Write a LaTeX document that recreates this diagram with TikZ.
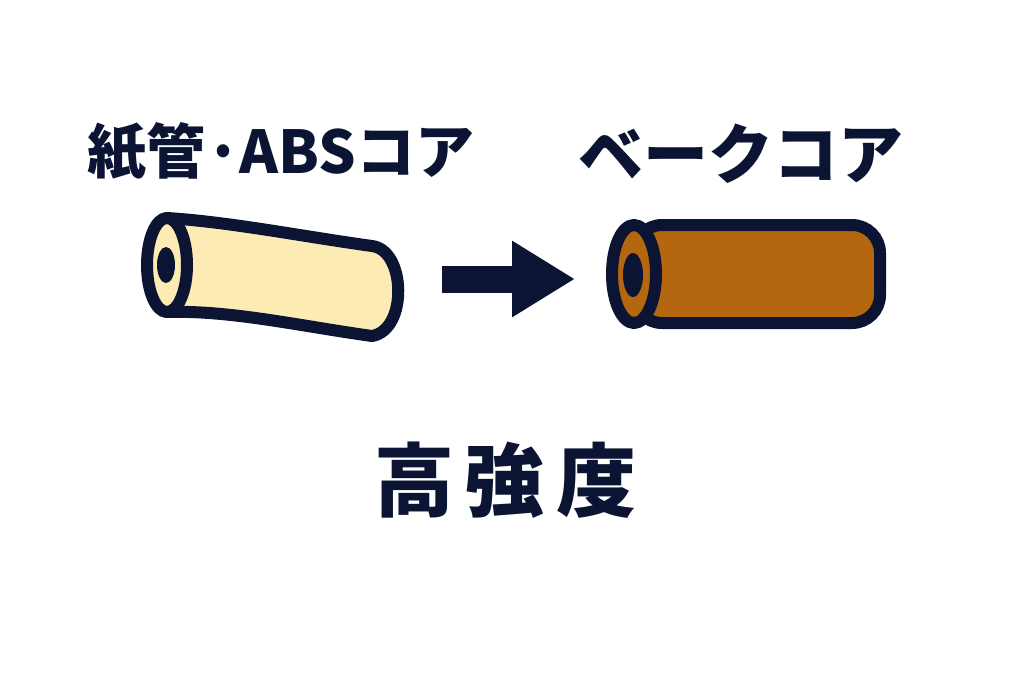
\documentclass[tikz,border=0pt]{standalone}
\usepackage{fontspec}
\newfontfamily\cjk{Noto Sans CJK JP}
\usetikzlibrary{arrows.meta}
\definecolor{ink}{HTML}{0B1433}
\definecolor{paper}{HTML}{FCEBB3}
\definecolor{bake}{HTML}{B5670F}

\begin{document}
\begin{tikzpicture}
		[x=1pt,y=-1pt]
			\tikzstyle{every node}=[inner sep=0pt, text=ink]
			\tikzstyle{title}=[font=\cjk\bfseries\fontsize{59}{70}\selectfont]
			\tikzstyle{tube}=[draw=ink, line width=12pt, line join=round]
		\useasboundingbox[fill=white] (0,0) rectangle (1024,683);
		%-----titles
		 \node[title]  (OLD) at (281,152) {紙管·ABSコア};
		 \node[title, font=\cjk\bfseries\fontsize{65}{74}\selectfont]  (NEW) at (741,154) {ベークコア};
		 \node[font=\cjk\bfseries\fontsize{80}{90}\selectfont]  (HIGH) at (505,480) {高\kern11pt 強\kern11pt 度};
		%-----paper / ABS core
		 \draw[tube, fill=paper] (167,218) .. controls (230,222) and (300,236) .. (372,246)
		   .. controls (406,250) and (408,330) .. (372,336)
		   .. controls (300,326) and (230,310) .. (167,312) -- cycle;
		 \draw[tube, fill=paper] (167,265) ellipse (20 and 47);
		 \fill[ink] (166,265) ellipse (9 and 18);
		%-----baked core
		 \draw[tube, fill=bake, rounded corners=28pt] (634,225) -- (880,225) -- (880,323) -- (634,323) -- cycle;
		 \draw[tube, fill=bake] (634,274) ellipse (22 and 49);
		 \fill[ink] (633,275) ellipse (10 and 22);
		%-----arrow
		 \coordinate (SRC) at (442,279);
		 \coordinate (DST) at (575,279);
		 \draw[ink, line width=27pt, -{Triangle[length=63pt,width=72pt]}] (SRC) -- (DST);
\end{tikzpicture}
\end{document}
